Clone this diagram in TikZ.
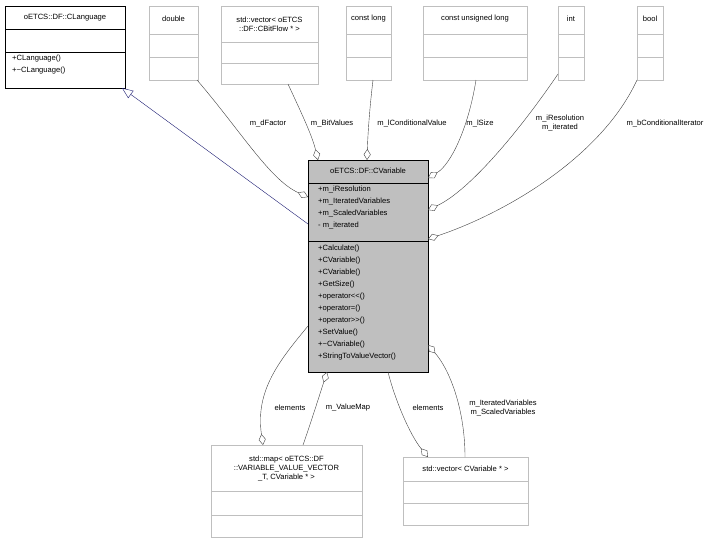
\documentclass[tikz,border=0pt]{standalone}
\usepackage{fontspec}
\setmainfont[Mapping=]{Liberation Sans}
\usetikzlibrary{arrows.meta}
\definecolor{gb}{RGB}{191,191,191}
\definecolor{navy}{RGB}{25,25,112}
\definecolor{edge}{RGB}{64,64,64}
\tikzset{
  lbl/.style={font=\fontsize{7.6}{9}\selectfont, inner sep=0pt, align=center},
  mem/.style={font=\fontsize{7.6}{12}\selectfont, inner sep=0pt, align=left, anchor=north west},
  agg/.style={draw=edge, -{Diamond[open,length=11pt,width=7pt]}},
  aggr/.style={draw=edge, {Diamond[open,length=11pt,width=7pt]}-},
  inh/.style={draw=navy, -{Triangle[open,length=11pt,width=9pt]}},
}
\newcommand{\umlbox}[8]{%
  \node[draw=#8, fill=#7, minimum width=#3-#1, minimum height=#4-#2, anchor=north west, inner sep=0pt, line width=#6] (#5) at (#1,#2) {};}
\begin{document}
\begin{tikzpicture}[x=1pt,y=-1pt]
\useasboundingbox (0,0) rectangle (717,544);
% CLanguage
\umlbox{5}{6}{125}{88}{cl}{0.8pt}{white}{black}
\draw[line width=0.8pt] (5,29)--(125,29) (5,52)--(125,52);
\node[lbl] at (65,17.5) {oETCS::DF::CLanguage};
\node[mem] at (12,55) {+CLanguage()\\+\textasciitilde CLanguage()};
% simple grey boxes
\foreach \n/\a/\b/\r/\t in {dbl/149/198/34/double, cl1/346/391/34/const long, cul/423/527/34/const unsigned long, int/558/584/34/int, bool/637/663/34/bool}{
  \umlbox{\a}{6}{\b}{80}{\n}{0.6pt}{white}{gb}
  \draw[gb,line width=0.6pt] (\a,34)--(\b,34) (\a,57)--(\b,57);
  \node[lbl] at ({(\a+\b)/2},19) {\t};
}
\umlbox{221}{6}{318}{84}{vbf}{0.6pt}{white}{gb}
\draw[gb,line width=0.6pt] (221,42)--(318,42) (221,63)--(318,63);
\node[lbl] at (269.5,24) {std::vector\textless{} oETCS\\::DF::CBitFlow * \textgreater};
% CVariable
\umlbox{308}{160}{428}{372}{cv}{0.8pt}{gb}{black}
\draw[line width=0.8pt] (308,183)--(428,183) (308,241)--(428,241);
\node[lbl] at (368,171) {oETCS::DF::CVariable};
\node[mem] at (318,186) {+m\_iResolution\\+m\_IteratedVariables\\+m\_ScaledVariables\\- m\_iterated};
\node[mem] at (318,245) {+Calculate()\\+CVariable()\\+CVariable()\\+GetSize()\\+operator\mbox{<}\mbox{<}()\\+operator=()\\+operator\mbox{>}\mbox{>}()\\+SetValue()\\+\textasciitilde CVariable()\\+StringToValueVector()};
% map
\umlbox{211}{445}{362}{537}{map}{0.6pt}{white}{gb}
\draw[gb,line width=0.6pt] (211,491)--(362,491) (211,515)--(362,515);
\node[lbl] at (286.5,468) {std::map\textless{} oETCS::DF\\::VARIABLE\_VALUE\_VECTOR\\\_T, CVariable * \textgreater};
% vector CVariable
\umlbox{403}{457}{528}{525}{vcv}{0.6pt}{white}{gb}
\draw[gb,line width=0.6pt] (403,481)--(528,481) (403,503)--(528,503);
\node[lbl] at (465.5,469) {std::vector\textless{} CVariable * \textgreater};
% edges
\coordinate (cvl1) at (308,224);
\draw[inh] (cvl1) -- (122,88);
\draw[agg] (197,80) .. controls (240,130) and (270,180) .. (308,197);
\node[lbl] at (268,123) {m\_dFactor};
\draw[agg] (288,84) .. controls (300,110) and (312,135) .. (318,160);
\node[lbl] at (332,123) {m\_BitValues};
\draw[agg] (373,80) .. controls (370,105) and (368,130) .. (367,160);
\node[lbl] at (412,123) {m\_lConditionalValue};
\draw[agg] (476,80) .. controls (468,130) and (450,165) .. (428,178);
\node[lbl] at (480,123) {m\_lSize};
\draw[agg] (558,74) .. controls (520,130) and (470,190) .. (428,210);
\node[lbl] at (560,123) {m\_iResolution\\m\_iterated};
\draw[agg] (637,80) .. controls (600,160) and (500,215) .. (428,239);
\node[lbl] at (665,123) {m\_bConditionalIterator};
\draw[agg] (308,326) .. controls (280,360) and (255,390) .. (263,445);
\node[lbl] at (290,408) {elements};
\draw[aggr] (327,372) .. controls (318,400) and (310,425) .. (303,445);
\node[lbl] at (348,408) {m\_ValueMap};
\draw[agg] (388,372) .. controls (395,400) and (410,435) .. (428,457);
\node[lbl] at (428,408) {elements};
\draw[aggr] (428,345) .. controls (450,370) and (465,410) .. (465,457);
\node[lbl] at (503,408) {m\_IteratedVariables\\m\_ScaledVariables};
\end{tikzpicture}
\end{document}
